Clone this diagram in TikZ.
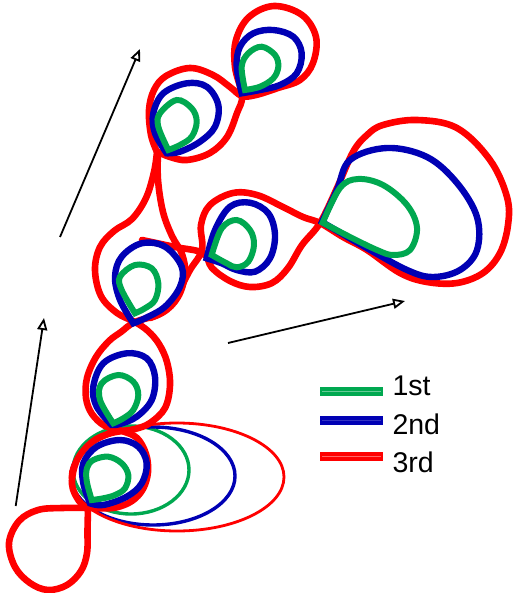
\documentclass[tikz,border=0pt]{standalone}
\usepackage{fontspec}
\setmainfont{Liberation Sans}
\usetikzlibrary{arrows.meta}
\definecolor{gc}{RGB}{0,168,80}
\definecolor{bc}{RGB}{0,0,180}
\definecolor{rc}{RGB}{255,0,0}
\begin{document}
\begin{tikzpicture}[x=1pt,y=-1pt,
  rl/.style={draw=rc,line width=6.6pt,line cap=round,line join=round},
  bl/.style={draw=bc,line width=6.4pt,line cap=round},
  gl/.style={draw=gc,line width=6pt,line cap=round},
  arr/.style={draw=black,line width=1.8pt,-{Triangle[open,length=12pt,width=10pt]}},
  lab/.style={anchor=base west,font=\fontsize{28.5}{30}\selectfont},
  sm/.style={smooth,tension=0.6}]
\useasboundingbox (0,0) rectangle (512,593);

% ellipses
\draw[gc,line width=3.4pt] (131,470) ellipse [x radius=58,y radius=44];
\draw[bc,line width=3.4pt] (153,476) ellipse [x radius=82,y radius=49];
\draw[rc,line width=2.8pt] (177,477) ellipse [x radius=107,y radius=54];

% red curve
\draw[rl] plot[sm] coordinates {(157,152) (154,172) (146,198) (132,219) (114,231) (100,247) (95,270) (101,296) (117,313) (135,322) (148,331) (159,344) (167,362) (170,385) (165,408) (150,423) (135,429) (122,431) (108,434) (92,442) (77,460) (72,484) (79,501) (88,508)};
\draw[rl] plot[sm] coordinates {(158,152) (158,180) (163,212) (172,236) (182,254) (185,274) (178,297) (162,313) (135,322) (121,332) (109,341) (96,357) (87,378) (86,398) (92,414) (105,426) (122,431) (137,438) (146,454) (148,472) (143,489) (132,501) (116,507.5) (100,508.3) (88,508)};
\draw[rl] plot[sm] coordinates {(88,508) (62,508) (38,510) (19,521) (9,543) (15,567) (30,583) (48,590) (67,585) (81,571) (87,553) (87.5,530) (88,508)};
\draw[rl] plot[sm] coordinates {(142,240) (175,247) (203,253) (212,268) (230,281) (250,287) (272,283) (288,268) (302,245) (320,223) (337,188) (353,152) (367,135) (383,125) (417,120) (457,128) (490,160) (507,197) (508,225) (500,253) (483,273) (457,283) (427,282) (400,273) (367,250) (343,237) (320,223) (303,217) (283,207) (257,195) (233,193) (210,205) (201,225) (202,250) (190,270) (177,294) (162,312) (150,318)};
\draw[rl] plot[sm] coordinates {(157,152) (151,135) (149,110) (154,90) (166,76) (190,68) (213,75) (230,87) (242,96) (256,95) (278,88) (300,80) (313,63) (316,37) (302,15) (274,6) (249,17) (236,40) (235,67) (242,96) (237,113) (227,137) (210,153) (187,160) (170,157) (158,152)};

% blue teardrops
\draw[bl] plot[sm] coordinates {(90,503.3) (83.3,483.3) (83.3,463.3) (96.7,446.7) (120,440) (138.3,446.7) (146.7,463.3) (141.7,483.3) (126.7,496.7) (103.3,505) (90,503.3)} -- cycle;
\draw[bl] plot[sm] coordinates {(111.7,425) (96.7,406.7) (93.3,386.7) (103.3,363.3) (126.7,353.3) (146.7,358.3) (155,376.7) (151.7,400) (136.7,416.7) (120,424) (111.7,425)} -- cycle;
\draw[bl] plot[sm] coordinates {(133.3,323.3) (120,300) (115,276.7) (121.7,256.7) (141.7,243.3) (165,246.7) (181.7,266.7) (180,286.7) (165,306.7) (145,318.3) (133.3,323.3)} -- cycle;
\draw[bl] plot[sm] coordinates {(166.7,153.3) (155,133.3) (153.3,113.3) (163.3,93.3) (186.7,83.3) (206.7,86.7) (218.3,105) (215,126.7) (200,141.7) (180,151.7) (166.7,153.3)} -- cycle;
\draw[bl] plot[sm] coordinates {(241.7,93.3) (236.7,66.7) (240,46.7) (253.3,33.3) (273.3,30) (293.3,36.7) (301.7,53.3) (296.7,73.3) (280,85) (260,90) (241.7,93.3)} -- cycle;
\draw[bl] plot[sm] coordinates {(206.7,258.3) (215,230) (230,206.7) (250,202.7) (268.3,213.3) (275,235) (270,258.3) (255,271.7) (236.7,270) (221.7,263.3) (206.7,258.3)} -- cycle;
\draw[bl] plot[sm] coordinates {(322,222) (337,190) (350,160) (387,148) (427,157) (457,183) (477,217) (477,250) (460,270) (433,277) (407,270) (365,247) (322,222)} -- cycle;

% green teardrops
\draw[gl] plot[sm] coordinates {(91.7,500) (86.7,481) (87,468) (93.3,460) (108.3,456.7) (121.7,463.3) (128.3,475) (125,488.3) (115,495) (103.3,498.3) (91.7,500)} -- cycle;
\draw[gl] plot[sm] coordinates {(113.3,423.3) (100,400) (101.7,383.3) (118.3,375) (133.3,381.7) (138.3,395) (133.3,410) (123.3,418.3) (113.3,423.3)} -- cycle;
\draw[gl] plot[sm] coordinates {(135,313.3) (121.7,290) (120,276.7) (135,265) (151.7,268.3) (158.3,283.3) (155,300) (145,308.3) (135,313.3)} -- cycle;
\draw[gl] plot[sm] coordinates {(168.3,150) (158.3,126.7) (160,113.3) (176.7,100) (191.7,108.3) (196.7,121.7) (191.7,136.7) (180,145) (168.3,150)} -- cycle;
\draw[gl] plot[sm] coordinates {(245,90) (241.7,66.7) (248.3,53.3) (261.7,46.7) (275,55) (278.3,66.7) (273.3,78.3) (260,86.7) (245,90)} -- cycle;
\draw[gl] plot[sm] coordinates {(211.7,255) (221.7,228.3) (236.7,220) (250,230) (254,245) (248.3,261.7) (236.7,267.3) (226.7,263.3) (211.7,255)} -- cycle;
\draw[gl] plot[sm] coordinates {(322.7,222.7) (340,188) (358,179) (383,185) (407,205) (417,228) (410,250) (393,255) (377,250) (350,237) (322.7,222.7)} -- cycle;

% arrows
\coordinate (a1s) at (15.7,506); \coordinate (a1e) at (44,318);
\coordinate (a2s) at (60,237);   \coordinate (a2e) at (140,49);
\coordinate (a3s) at (228,343);  \coordinate (a3e) at (405,301);
\draw[arr] (a1s) -- (a1e);
\draw[arr] (a2s) -- (a2e);
\draw[arr] (a3s) -- (a3e);

% legend
\draw[gc,line width=9pt] (320,391.5) -- (383,391.5);
\draw[gc!60!white,line width=0.6pt] (322,391.5) -- (381,391.5);
\draw[bc,line width=9pt] (320,420.7) -- (383,420.7);
\draw[bc!80!white,line width=0.5pt] (322,420.7) -- (381,420.7);
\draw[rc,line width=9pt] (320,456.7) -- (383,456.7);
\draw[rc!60!white,line width=0.6pt] (322,456.7) -- (381,456.7);
\node[lab] (l1) at (389,395) {1st};
\node[lab] (l2) at (389,434) {2nd};
\node[lab] (l3) at (389,472) {3rd};
\end{tikzpicture}
\end{document}
